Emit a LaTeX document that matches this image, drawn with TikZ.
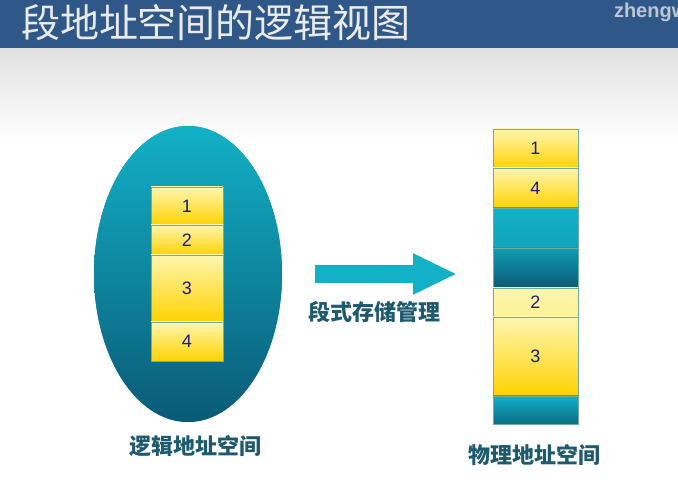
\documentclass[tikz,border=0pt]{standalone}
\usepackage{fontspec}
\setmainfont{Liberation Sans}
\newfontfamily\cjk{Noto Sans CJK SC}
\usetikzlibrary{positioning, arrows.meta, shapes.geometric}
\definecolor{headblue}{HTML}{2F5787}
\definecolor{tealtop}{HTML}{12B1C7}
\definecolor{tealbot}{HTML}{0A5A76}
\definecolor{segtop}{HTML}{FFF6B0}
\definecolor{segbot}{HTML}{FFD200}
\definecolor{segline}{HTML}{6FAE9C}
\definecolor{numblue}{HTML}{1B1B7A}
\definecolor{lbltext}{HTML}{1D5A6E}

\begin{document}
\begin{tikzpicture}[x=1pt, y=-1pt, node distance=0pt,
      every node/.style={inner sep=0pt, outer sep=0pt},
      seg/.style={draw=segline, line width=0.8pt, top color=segtop, bottom color=segbot,
        font=\fontsize{18}{20}\selectfont, text=numblue},
      lseg/.style={seg, minimum width=72pt},
      pseg/.style={seg, minimum width=85pt},
      tealseg/.style={draw=segline, line width=0.8pt, minimum width=85pt, top color=tealtop, bottom color=#1},
      lbl/.style={font=\cjk\bfseries\fontsize{22}{24}\selectfont, text=lbltext}]
    \useasboundingbox (0,0) rectangle (678,494);
    % slide background
    \fill[white] (0,0) rectangle (678,494);
    \shade[top color=black!12, bottom color=white] (0,48) rectangle (678,140);
    \fill[headblue] (0,0) rectangle (678,48);
    \node[anchor=west, font=\cjk\fontsize{39}{42}\selectfont, text=black!8] (title) at (21,23) {段地址空间的逻辑视图};
    \node[anchor=west, font=\bfseries\fontsize{20}{22}\selectfont, text=black!25!headblue!30] (mark) at (614,12) {zhengw};

    % logical address space
    \node[ellipse, minimum width=188pt, minimum height=296pt, fill=tealtop!60!tealbot] (lspace) at (188,274) {};
    \shade[top color=tealtop, bottom color=tealbot] (lspace.center) ellipse [x radius=94, y radius=148];
    \node[lseg, minimum height=38pt] (l1) at (187,206) {1};
    \node[lseg, minimum height=30pt, below=of l1] (l2) {2};
    \node[lseg, minimum height=67pt, below=of l2] (l3) {3};
    \node[lseg, minimum height=39pt, below=of l3] (l4) {4};
    \node[lbl] (lname) at (195,446) {逻辑地址空间};

    % physical address space
    \node[pseg, minimum height=39pt] (p1) at (535.5,148.5) {1};
    \node[pseg, minimum height=40pt, below=of p1] (p4) {4};
    \node[tealseg=tealtop!85!tealbot, minimum height=40pt, below=of p4] (free1) {};
    \node[tealseg=tealbot, minimum height=40pt, below=of free1, top color=tealtop!75!tealbot] (free2) {};
    \node[pseg, minimum height=29pt, below=of free2, bottom color=segtop!85!segbot] (p2) {2};
    \node[pseg, minimum height=79pt, below=of p2] (p3) {3};
    \node[tealseg=tealbot!80!tealtop, minimum height=28pt, below=of p3] (free3) {};
    \node[lbl] (pname) at (534,455) {物理地址空间};

    % mapping arrow
    \coordinate (astart) at (315,274);
    \coordinate (aend) at (457,274);
    \draw[tealtop, line width=18pt, -{Triangle[length=44pt, width=38pt]}] (astart) -- (aend);
    \node[lbl] (mname) at (374,312) {段式存储管理};
  \end{tikzpicture}
\end{document}
